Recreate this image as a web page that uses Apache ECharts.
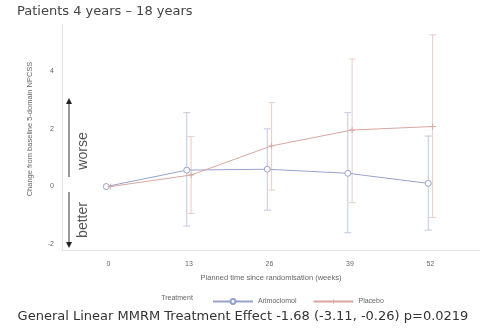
<!DOCTYPE html>
<html><head><meta charset="utf-8">
<script src="https://cdn.jsdelivr.net/npm/echarts@6/dist/echarts.min.js"></script>
<style>html,body{margin:0;padding:0;background:#fff}#c{width:480px;height:328px}</style>
</head><body><div id="c"></div>
<script>
const weeks = [0, 13, 26, 39, 52];
const xTicks = [0, 13, 26, 39, 52];
const yTicks = [-2, 0, 2, 4];
const arimoclomolMean = [0, 0.57, 0.60, 0.46, 0.11];
const arimoclomolLower = [null, -1.37, -0.82, -1.60, -1.51];
const arimoclomolUpper = [null, 2.56, 2.00, 2.56, 1.75];
const placeboMean = [0, 0.40, 1.41, 1.96, 2.08];
const placeboLower = [null, -0.93, -0.12, -0.56, -1.07];
const placeboUpper = [null, 1.73, 2.91, 4.42, 5.26];

const DODGE = 0.35;
const blue = '#97a2cc', red = '#d9a6a0';
const blueBar = '#c3c8e2', redBar = '#eaccc8';
const plusPath = 'path://M4.3,0H5.7V4.3H10V5.7H5.7V10H4.3V5.7H0V4.3H4.3Z';

function pts(mean, off){ return weeks.map((w,i)=>[w+off, mean[i]]); }
function bars(lo, hi, off){ return weeks.map((w,i)=>[w+off, lo[i], hi[i]]).filter(d=>d[1]!=null); }
function errRender(color){
  return function(params, api){
    const x = api.value(0), lo = api.value(1), hi = api.value(2);
    const a = api.coord([x, hi]), b = api.coord([x, lo]);
    const hw = 3.5;
    const st = {stroke: color, lineWidth: 1};
    return {type:'group', children:[
      {type:'line', shape:{x1:a[0],y1:a[1],x2:b[0],y2:b[1]}, style:st},
      {type:'line', shape:{x1:a[0]-hw,y1:a[1],x2:a[0]+hw,y2:a[1]}, style:st},
      {type:'line', shape:{x1:b[0]-hw,y1:b[1],x2:b[0]+hw,y2:b[1]}, style:st}
    ]};
  };
}

const chart = echarts.init(document.getElementById('c'));
chart.setOption({
  animation:false,
  grid:{left:62, top:25, right:0, bottom:78, containLabel:false},
  xAxis:{type:'value', min:-7.5, max:60,
    axisLine:{onZero:false, lineStyle:{color:'#e4e4e4'}},
    axisTick:{show:false},
    axisLabel:{customValues:xTicks, color:'#666', fontSize:7, fontFamily:'Liberation Sans', margin:11},
    splitLine:{show:false}},
  yAxis:{type:'value', min:-2.2, max:5.6,
    axisLine:{show:true, onZero:false, lineStyle:{color:'#e4e4e4'}},
    axisTick:{show:false},
    axisLabel:{customValues:yTicks, color:'#666', fontSize:7, fontFamily:'Liberation Sans', margin:8},
    splitLine:{show:false}},
  legend:{left:207, top:293, itemWidth:40, itemHeight:6, itemGap:16,
    textStyle:{fontSize:7, color:'#666', fontFamily:'Liberation Sans'},
    data:[{name:'Arimoclomol'},{name:'Placebo'}]},
  series:[
    {name:'ArimoclomolCI', type:'custom', renderItem:errRender(blueBar), data:bars(arimoclomolLower, arimoclomolUpper, -DODGE), z:1},
    {name:'PlaceboCI', type:'custom', renderItem:errRender(redBar), data:bars(placeboLower, placeboUpper, DODGE), z:1},
    {name:'Arimoclomol', type:'line', data:pts(arimoclomolMean, -DODGE), symbol:'circle', symbolSize:6,
      lineStyle:{color:blue, width:1}, itemStyle:{color:'#fff', borderColor:blue, borderWidth:1}, z:3},
    {name:'Placebo', type:'line', data:pts(placeboMean, DODGE), symbol:plusPath, symbolSize:6,
      lineStyle:{color:red, width:1}, itemStyle:{color:red, borderWidth:0}, z:3}
  ],
  graphic:[
    {type:'text', left:17, top:5, style:{text:'Patients 4 years \u2013 18 years', font:'13px "DejaVu Sans"', fill:'#444'}},
    {type:'text', x:30, y:129, rotation:Math.PI/2, style:{text:'Change from baseline 5-domain NPCSS', font:'7.5px "Liberation Sans"', fill:'#666', align:'center', verticalAlign:'middle'}},
    {type:'text', x:271, y:278, style:{text:'Planned time since randomisation (weeks)', font:'7.5px "Liberation Sans"', fill:'#666', align:'center', verticalAlign:'middle'}},
    {type:'text', x:177, y:298, style:{text:'Treatment', font:'7px "Liberation Sans"', fill:'#666', align:'center', verticalAlign:'middle'}},
    {type:'text', x:243, y:317, style:{text:'General Linear MMRM Treatment Effect -1.68 (-3.11, -0.26) p=0.0219', font:'13px "DejaVu Sans"', fill:'#333', align:'center', verticalAlign:'middle'}},
    {type:'line', shape:{x1:69,y1:102,x2:69,y2:177}, style:{stroke:'#333', lineWidth:1}},
    {type:'polygon', shape:{points:[[66,104],[72,104],[69,98]]}, style:{fill:'#222'}},
    {type:'line', shape:{x1:69,y1:192,x2:69,y2:243}, style:{stroke:'#333', lineWidth:1}},
    {type:'polygon', shape:{points:[[66,242],[72,242],[69,248]]}, style:{fill:'#222'}},
    {type:'text', x:83, y:151, rotation:Math.PI/2, style:{text:'worse', font:'14px "Liberation Sans"', fill:'#555', align:'center', verticalAlign:'middle'}},
    {type:'text', x:83, y:220, rotation:Math.PI/2, style:{text:'better', font:'14px "Liberation Sans"', fill:'#555', align:'center', verticalAlign:'middle'}}
  ]
});
</script></body></html>
